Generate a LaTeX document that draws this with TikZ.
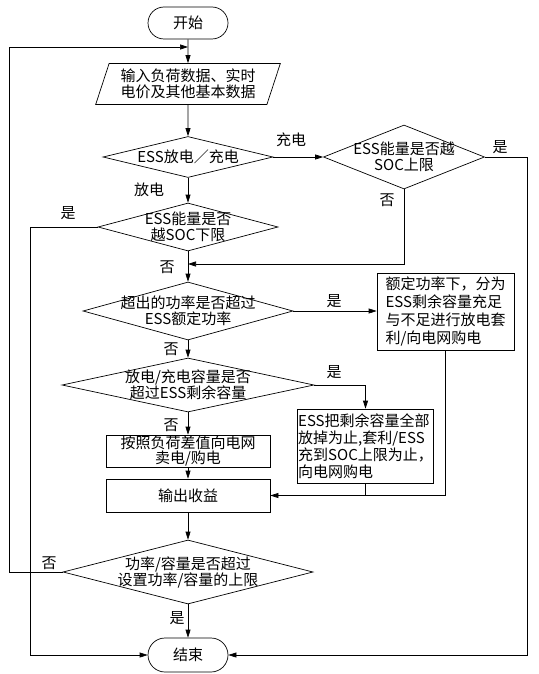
\documentclass[tikz,border=0pt]{standalone}
\usepackage{fontspec}
\setmainfont{Noto Sans CJK SC}
\usetikzlibrary{shapes.geometric,shapes.misc,arrows.meta}

\begin{document}
\begin{tikzpicture}[x=1pt,y=-1pt,line width=0.7pt,
  font=\fontsize{15}{16}\selectfont,
  arr/.style={-{Triangle[length=8pt,width=5pt]}},
  term/.style={draw, rounded rectangle, minimum width=82pt, minimum height=32pt, inner sep=1pt},
  io/.style={draw, trapezium, trapezium left angle=70, trapezium right angle=110, trapezium stretches=true, align=center, minimum width=185pt, minimum height=41pt, inner sep=1pt},
  proc/.style={draw, rectangle, inner sep=1pt},
  dec/.style={draw, diamond, inner sep=0pt},
  dtxt/.style={align=center, inner sep=0pt},
  lbl/.style={inner sep=0pt}]
\useasboundingbox (0,0) rectangle (538,674);

% main column
\node[term] (start) at (188,23) {开始};
\node[io] (input) at (188,84) {输入负荷数据、实时\\电价及其他基本数据};
\node[dec, minimum width=170pt, minimum height=41pt, label={[dtxt]center:ESS放电／充电}] (d1) at (188,157) {};
\node[dec, minimum width=161pt, minimum height=64pt, label={[dtxt]center:{ESS能量是否越\\SOC上限}}] (d2) at (404,157) {};
\node[dec, minimum width=180pt, minimum height=48pt, label={[dtxt]center:{ESS能量是否\\越SOC下限}}] (d3) at (188,227) {};
\node[dec, minimum width=210pt, minimum height=58pt, label={[dtxt]center:{超出的功率是否超过\\ESS额定功率}}] (d4) at (188,311) {};
\node[proc, align=left, minimum width=137pt, minimum height=77pt, font=\fontsize{15}{18}\selectfont] (box1) at (445.5,311.5) {额定功率下，分为\\ESS剩余容量充足\\与不足进行放电套\\利/向电网购电};
\node[dec, minimum width=252pt, minimum height=54pt, label={[dtxt]center:{放电/充电容量是否\\超过ESS剩余容量}}] (d5) at (188,385) {};
\node[proc, align=left, minimum width=133pt, minimum height=74pt, font=\fontsize{15}{17}\selectfont] (box2) at (365.5,446) {ESS把剩余容量全部\\放掉为止,套利/ESS\\充到SOC上限为止，\\向电网购电};
\node[proc, align=center, minimum width=164pt, minimum height=32pt, font=\fontsize{15}{14.5}\selectfont] (box3) at (188,451) {按照负荷差值向电网\\卖电/购电};
\node[proc, minimum width=164pt, minimum height=33pt] (box4) at (188,495.5) {输出收益};
\node[dec, minimum width=250pt, minimum height=64pt, label={[dtxt]center:{功率/容量是否超过\\设置功率/容量的上限}}] (d6) at (188,572) {};
\node[term, minimum height=34pt] (end) at (188,655) {结束};

% branch labels
\node[lbl] (lcharge) at (291,140) {充电};
\node[lbl] (lyes2) at (500,147) {是};
\node[lbl] (ldis) at (149,190) {放电};
\node[lbl] (lno2) at (387,200) {否};
\node[lbl] (lyes3) at (68,213) {是};
\node[lbl] (lno3) at (167,267) {否};
\node[lbl] (lyes4) at (334,301) {是};
\node[lbl] (lno4) at (171,349) {否};
\node[lbl] (lyes5) at (334,372) {是};
\node[lbl] (lno5) at (171,425) {否};
\node[lbl] (lno6) at (49,563) {否};
\node[lbl] (lyes6) at (177,618) {是};

\coordinate (loopx) at (9,47);
\coordinate (leftx) at (30,0);
\coordinate (rightx) at (527,0);
\coordinate (mrg) at (188,264);

% connectors
\draw[arr] (start) -- (input);
\draw[arr] (input) -- (d1);
\draw[arr] (d1.east) -- (d2.west);
\draw[arr] (d1) -- (d3);
\draw[arr] (d2.east) -| (rightx |- end) -- (end.east);
\draw[arr] (d2.south) |- (mrg);
\draw[arr] (d3.west) -| (leftx |- end) -- (end.west);
\draw[arr] (d3) -- (d4);
\draw[arr] (d4.east) -- (d4.east -| box1.west);
\draw[arr] (d4) -- (d5);
\draw[arr] (d5.east) -| (box2.north);
\draw[arr] (d5) -- (box3);
\draw[arr] (box3) -- (box4);
\draw[arr] (box1.south) |- (box4.east);
\draw (box2.south) -- (box2.south |- box4.east);
\draw[arr] (box4) -- (d6);
\draw[arr] (d6) -- (end);
\draw[arr] (d6.west) -| (loopx) -- (loopx -| start);
\end{tikzpicture}
\end{document}
